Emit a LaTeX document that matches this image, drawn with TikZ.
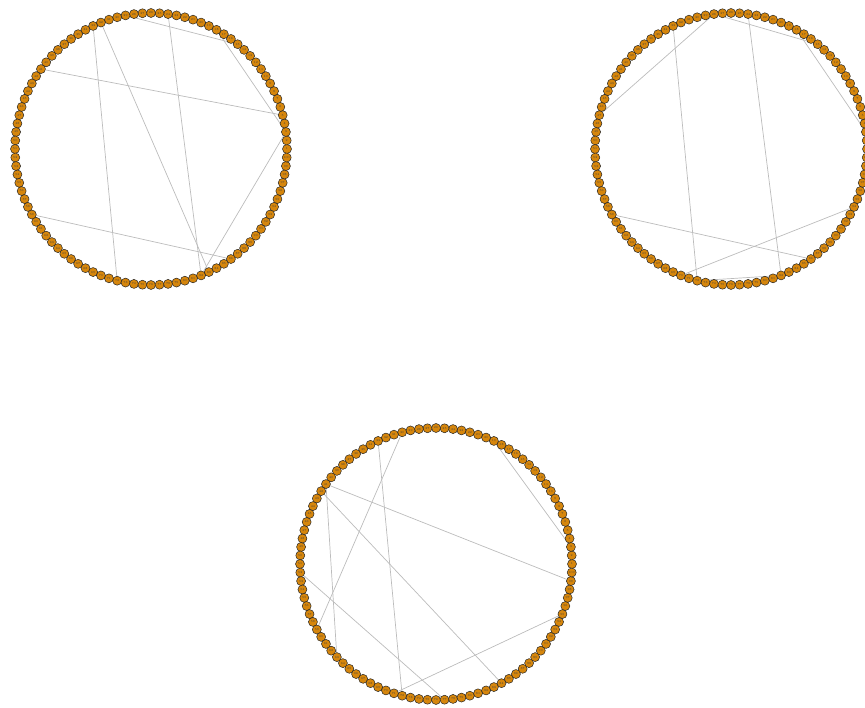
\documentclass[tikz,border=0pt]{standalone}
\usepackage{tikz}
\usetikzlibrary{backgrounds}

\definecolor{vtxorange}{RGB}{214,134,12}
\definecolor{lnkgray}{RGB}{188,188,188}

\begin{document}
\begin{tikzpicture}[x=1pt, y=1pt,
  vtx/.style={circle, draw=black!85, fill=vtxorange, line width=0.5pt,
    minimum size=9pt, inner sep=0pt, font=\fontsize{3}{3}\selectfont, text=black!75},
  lnk/.style={draw=lnkgray, line width=0.7pt}]
\useasboundingbox (0,0) rectangle (865,707);

% Rings of 100 vertices, numbered counter-clockwise from the right
\foreach \ring/\cx/\cy in {a/151/558, b/731/558, c/436/143}{
  \begin{scope}[shift={(\cx,\cy)}]
    \foreach \k in {1,...,100}
      \node[vtx] (\ring\k) at ({(\k-1)*3.6}:136) {\k};
  \end{scope}
}

% Chords
\begin{scope}[on background layer]
  \foreach \u/\v in {29/15, 24/82, 33/72, 32/83, 18/3, 41/5, 3/82, 59/86}
    \draw[lnk] (a\u) -- (a\v);
  \foreach \u/\v in {33/72, 24/82, 28/15, 28/47, 18/3, 59/86, 70/94, 72/82}
    \draw[lnk] (b\u) -- (b\v);
  \foreach \u/\v in {33/72, 30/59, 41/99, 41/63, 42/84, 19/3, 52/77, 71/95}
    \draw[lnk] (c\u) -- (c\v);
\end{scope}
\end{tikzpicture}
\end{document}
